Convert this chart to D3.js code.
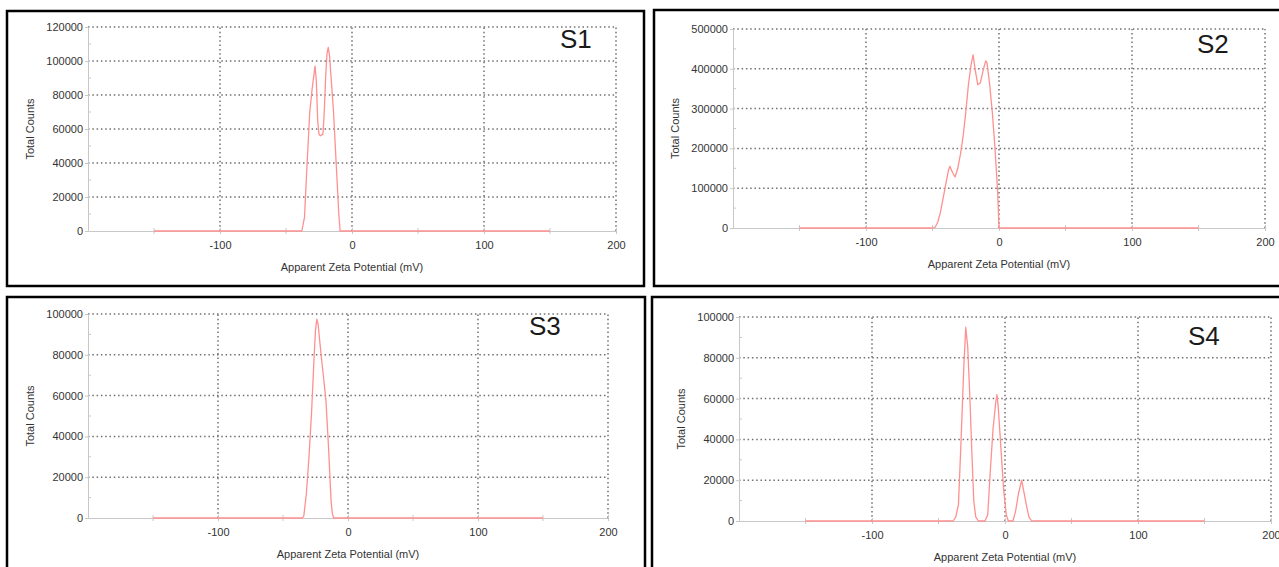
<!DOCTYPE html>
<html>
<head>
<meta charset="utf-8">
<script src="https://cdn.jsdelivr.net/npm/d3@7"></script>
<style>
  html, body { margin: 0; padding: 0; background: #fff; overflow: hidden; }
  svg { display: block; font-family: "Liberation Sans", Arial, sans-serif; }
</style>
</head>
<body>
<svg id="chart" width="1279" height="567"></svg>
<script>
// ---- data ----
const sampleNames = ["S1", "S2", "S3", "S4"];

const xTicks = [-100, 0, 100, 200];
const xMinorTicks = [-150, -50, 50, 150];

const yTicks1 = [0, 20000, 40000, 60000, 80000, 100000, 120000];
const yTicks2 = [0, 100000, 200000, 300000, 400000, 500000];
const yTicks3 = [0, 20000, 40000, 60000, 80000, 100000];
const yTicks4 = [0, 20000, 40000, 60000, 80000, 100000];

const s1X = [-150, -38, -36, -34, -32, -30, -28, -27, -26, -25, -24, -22, -21, -20, -19, -18, -17, -16, -14, -12, -10, -9, 150];
const s1Y = [0, 0, 8000, 40000, 70000, 85000, 97000, 88000, 65000, 57000, 56000, 57000, 70000, 90000, 104000, 108000, 103000, 92000, 70000, 40000, 10000, 0, 0];

const s2X = [-150, -50, -48, -46, -44, -42, -40, -38, -37, -35, -33, -31, -29, -27, -25, -23, -21, -19.5, -18, -16, -14, -12, -10, -9, -7, -5, -3, -1, 0, 150];
const s2Y = [0, 0, 2000, 15000, 40000, 75000, 110000, 145000, 155000, 140000, 128000, 150000, 185000, 230000, 290000, 360000, 410000, 435000, 400000, 360000, 365000, 395000, 420000, 415000, 360000, 290000, 200000, 90000, 0, 0];

const s3X = [-150, -35, -34, -32, -30, -28, -26, -25, -24, -23, -21, -19, -17, -15, -13, -12, -11, 150];
const s3Y = [0, 0, 1000, 12000, 30000, 52000, 80000, 92000, 97500, 95000, 82000, 70000, 58000, 35000, 8000, 2000, 0, 0];

const s4X = [-150, -39, -37, -35, -33, -31, -29.5, -28, -26.5, -25, -23.5, -22, -20, -15, -13, -11, -9, -7, -6, -5, -3, -1, 1, 2.5, 6, 8, 10, 12.5, 14, 16, 18, 20, 150];
const s4Y = [0, 0, 2000, 8000, 40000, 75000, 95000, 85000, 62000, 35000, 10000, 2000, 0, 0, 3000, 25000, 45000, 58000, 62000, 55000, 35000, 15000, 3000, 0, 0, 5000, 13000, 20000, 15000, 8000, 2000, 0, 0];

// ---- panel layout ----
const panels = [
  { name: sampleNames[0], xs: s1X, ys: s1Y, yTicks: yTicks1,
    box: [7, 11, 644, 286], plot: [88, 616, 231, 27], label: [560, 48] },
  { name: sampleNames[1], xs: s2X, ys: s2Y, yTicks: yTicks2,
    box: [654, 10, 1300, 286], plot: [733, 1265, 228, 29], label: [1197, 53] },
  { name: sampleNames[2], xs: s3X, ys: s3Y, yTicks: yTicks3,
    box: [7, 297, 645, 600], plot: [88, 608, 518, 314], label: [529, 335] },
  { name: sampleNames[3], xs: s4X, ys: s4Y, yTicks: yTicks4,
    box: [652, 297, 1300, 600], plot: [739, 1271, 521, 317], label: [1188, 345] }
];

const svg = d3.select("#chart");
const fmt = d => String(d);

panels.forEach(p => {
  const g = svg.append("g");
  const [bx0, by0, bx1, by1] = p.box;
  g.append("rect")
    .attr("x", bx0).attr("y", by0)
    .attr("width", bx1 - bx0).attr("height", by1 - by0)
    .attr("fill", "none").attr("stroke", "#000").attr("stroke-width", 2.5);

  const [px0, px1, py0, py1] = p.plot;
  const yMax = p.yTicks[p.yTicks.length - 1];
  const x = d3.scaleLinear().domain([-200, 200]).range([px0, px1]);
  const y = d3.scaleLinear().domain([0, yMax]).range([py0, py1]);
  const step = p.yTicks[1] - p.yTicks[0];
  const yMinor = d3.range(step / 2, yMax, step);

  // dotted grid
  g.append("g").selectAll("line").data(p.yTicks.slice(1)).join("line")
    .attr("x1", px0).attr("x2", px1)
    .attr("y1", d => y(d)).attr("y2", d => y(d))
    .attr("stroke", "#707070").attr("stroke-width", 1.5)
    .attr("stroke-dasharray", "1.5 2.8");
  g.append("g").selectAll("line").data(xTicks).join("line")
    .attr("x1", d => x(d)).attr("x2", d => x(d))
    .attr("y1", py0).attr("y2", py1)
    .attr("stroke", "#707070").attr("stroke-width", 1.5)
    .attr("stroke-dasharray", "1.5 2.8");

  // y axis
  const yAxis = g.append("g").attr("transform", `translate(${px0},0)`)
    .call(d3.axisLeft(y).tickValues(p.yTicks).tickFormat(fmt).tickSize(3).tickPadding(2));
  yAxis.select(".domain").attr("stroke", "#c8c8c8");
  yAxis.selectAll(".tick line").attr("stroke", "#c8c8c8");
  yAxis.selectAll("text").attr("fill", "#333").attr("font-size", 11);
  g.append("g").attr("transform", `translate(${px0},0)`)
    .selectAll("line").data(yMinor).join("line")
    .attr("x1", 0).attr("x2", 3)
    .attr("y1", d => y(d)).attr("y2", d => y(d))
    .attr("stroke", "#c8c8c8");

  // x axis
  const xAxis = g.append("g").attr("transform", `translate(0,${py0})`)
    .call(d3.axisBottom(x).tickValues(xTicks).tickFormat(fmt).tickSizeInner(3).tickSizeOuter(0).tickPadding(7));
  xAxis.select(".domain").attr("stroke", "#c8c8c8");
  xAxis.selectAll(".tick line").attr("stroke", "#c8c8c8").attr("y1", -3);
  xAxis.selectAll("text").attr("fill", "#333").attr("font-size", 11);
  g.append("g").attr("transform", `translate(0,${py0})`)
    .selectAll("line").data(xMinorTicks).join("line")
    .attr("x1", d => x(d)).attr("x2", d => x(d))
    .attr("y1", -3).attr("y2", 3)
    .attr("stroke", "#c8c8c8");

  // titles
  g.append("text")
    .attr("x", x(0)).attr("y", py0 + 40)
    .attr("text-anchor", "middle").attr("font-size", 11).attr("fill", "#333")
    .text("Apparent Zeta Potential (mV)");
  g.append("text")
    .attr("transform", `translate(${px0 - 54},${(py0 + py1) / 2}) rotate(-90)`)
    .attr("text-anchor", "middle").attr("font-size", 11).attr("fill", "#333")
    .text("Total Counts");

  // data line
  const pts = p.xs.map((v, i) => [v, p.ys[i]]);
  g.append("path").datum(pts)
    .attr("fill", "none").attr("stroke", "#ff9090").attr("stroke-width", 1.3)
    .attr("stroke-linejoin", "round")
    .attr("d", d3.line().x(d => x(d[0])).y(d => y(d[1])));

  // sample label
  g.append("text")
    .attr("x", p.label[0]).attr("y", p.label[1])
    .attr("font-size", 26).attr("fill", "#1a1a1a")
    .text(p.name);
});
</script>
</body>
</html>
